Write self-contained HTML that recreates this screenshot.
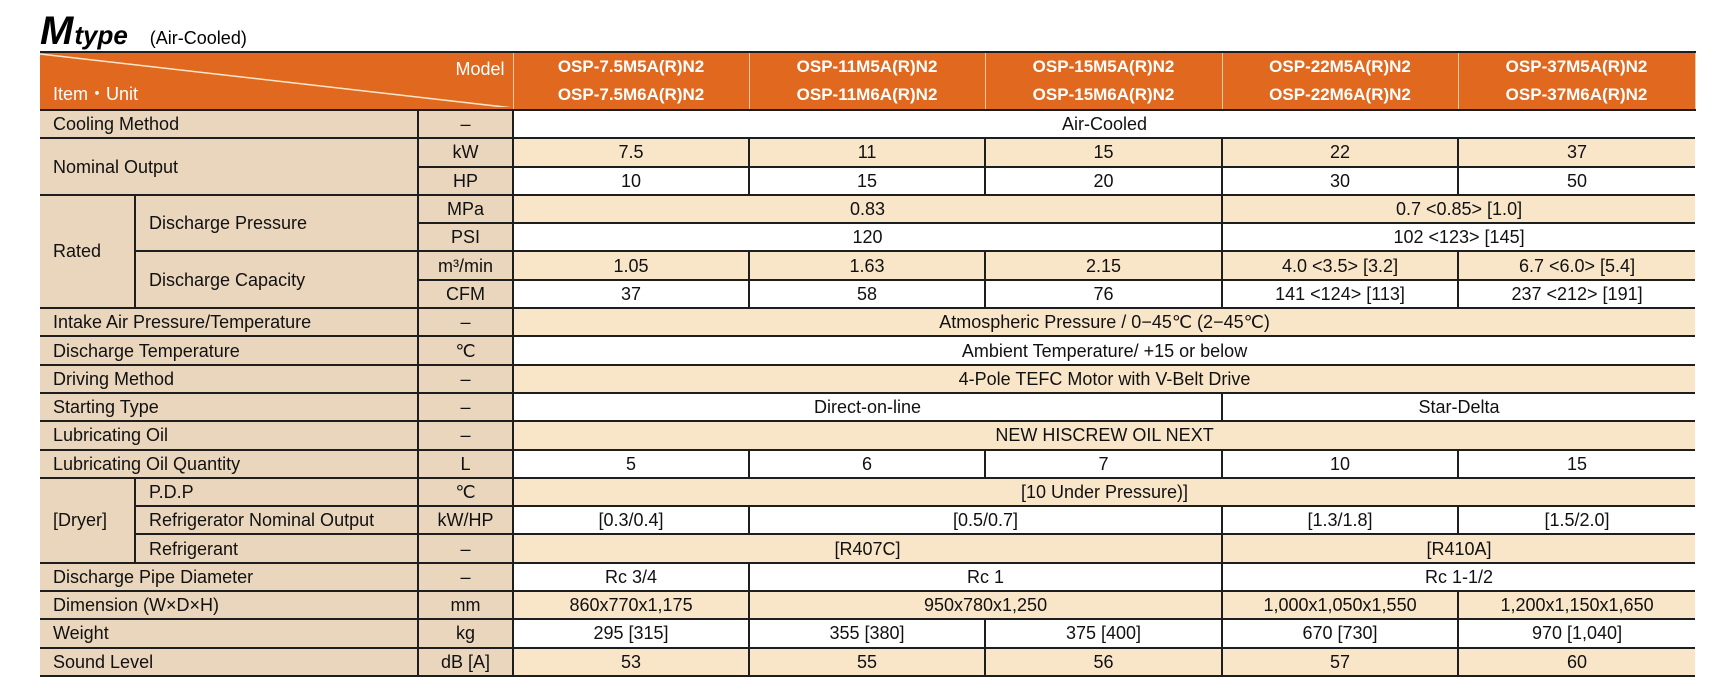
<!DOCTYPE html>
<html><head><meta charset="utf-8"><style>
body{margin:0;width:1717px;height:689px;background:#fff;font-family:"Liberation Sans",Arial,sans-serif;position:relative;overflow:hidden;}
.title{position:absolute;left:40px;top:9px;white-space:nowrap;}
.title .m{font-size:40px;font-weight:bold;font-style:italic;letter-spacing:-1px;}
.title .t{font-size:26px;font-weight:bold;font-style:italic;margin-left:2px;}
.title .a{font-size:18px;margin-left:22px;}
table{position:absolute;left:40px;top:51px;border-collapse:collapse;table-layout:fixed;width:1655px;}
td{border:2px solid #1e1e1e;padding:0;font-size:18px;color:#111;text-align:center;height:26.3px;line-height:18px;white-space:nowrap;overflow:hidden;}
td.l{background:#ead6bd;text-align:left;padding-left:13px;}
td.u{background:#ead6bd;}
tr.b td.d{background:#f9e6c9;}
tr.w td.d{background:#fff;}
tr td:first-child{border-left:none;}
tr td:last-child{border-right:none;}
tr.h td{background:#e0691f;color:#fff;height:54px;border-top:2px solid #1e1e1e;border-bottom:2px solid #1e1e1e;border-left:1.5px solid #f2c9a2;border-right:1.5px solid #f2c9a2;font-weight:bold;font-size:17px;line-height:28px;}
tr.h td.corner{position:relative;font-weight:normal;border-left:none;}
</style></head><body>
<div class="title"><span class="m">M</span><span class="t">type</span><span class="a">(Air-Cooled)</span></div>
<table>
<colgroup><col style="width:95px"><col style="width:283px"><col style="width:95px"><col style="width:236px"><col style="width:236px"><col style="width:237px"><col style="width:236px"><col style="width:237px"></colgroup>
<tr class="h"><td class="corner" colspan="3">
<svg width="473" height="54" style="position:absolute;left:0;top:0"><line x1="0" y1="1" x2="473" y2="55" stroke="#fbe6cc" stroke-width="1.5"/></svg>
<span style="position:absolute;right:8px;top:2px;font-size:18px;">Model</span>
<span style="position:absolute;left:13px;top:27px;font-size:18px;">Item・Unit</span></td>
<td>OSP-7.5M5A(R)N2<br>OSP-7.5M6A(R)N2</td><td>OSP-11M5A(R)N2<br>OSP-11M6A(R)N2</td><td>OSP-15M5A(R)N2<br>OSP-15M6A(R)N2</td><td>OSP-22M5A(R)N2<br>OSP-22M6A(R)N2</td><td>OSP-37M5A(R)N2<br>OSP-37M6A(R)N2</td></tr>
<tr class="w"><td class="l" colspan="2">Cooling Method</td><td class="u">–</td><td class="d" colspan="5">Air-Cooled</td></tr>
<tr class="b"><td class="l" colspan="2" rowspan="2" style="background:#ead6bd">Nominal Output</td><td class="u">kW</td><td class="d">7.5</td><td class="d">11</td><td class="d">15</td><td class="d">22</td><td class="d">37</td></tr>
<tr class="w"><td class="u">HP</td><td class="d">10</td><td class="d">15</td><td class="d">20</td><td class="d">30</td><td class="d">50</td></tr>
<tr class="b"><td class="l" rowspan="4">Rated</td><td class="l" rowspan="2">Discharge Pressure</td><td class="u">MPa</td><td class="d" colspan="3">0.83</td><td class="d" colspan="2">0.7 &lt;0.85&gt; [1.0]</td></tr>
<tr class="w"><td class="u">PSI</td><td class="d" colspan="3">120</td><td class="d" colspan="2">102 &lt;123&gt; [145]</td></tr>
<tr class="b"><td class="l" rowspan="2">Discharge Capacity</td><td class="u">m³/min</td><td class="d">1.05</td><td class="d">1.63</td><td class="d">2.15</td><td class="d">4.0 &lt;3.5&gt; [3.2]</td><td class="d">6.7 &lt;6.0&gt; [5.4]</td></tr>
<tr class="w"><td class="u">CFM</td><td class="d">37</td><td class="d">58</td><td class="d">76</td><td class="d">141 &lt;124&gt; [113]</td><td class="d">237 &lt;212&gt; [191]</td></tr>
<tr class="b"><td class="l" colspan="2">Intake Air Pressure/Temperature</td><td class="u">–</td><td class="d" colspan="5">Atmospheric Pressure / 0−45℃ (2−45℃)</td></tr>
<tr class="w"><td class="l" colspan="2">Discharge Temperature</td><td class="u">℃</td><td class="d" colspan="5">Ambient Temperature/ +15 or below</td></tr>
<tr class="b"><td class="l" colspan="2">Driving Method</td><td class="u">–</td><td class="d" colspan="5">4-Pole TEFC Motor with V-Belt Drive</td></tr>
<tr class="w"><td class="l" colspan="2">Starting Type</td><td class="u">–</td><td class="d" colspan="3">Direct-on-line</td><td class="d" colspan="2">Star-Delta</td></tr>
<tr class="b"><td class="l" colspan="2">Lubricating Oil</td><td class="u">–</td><td class="d" colspan="5">NEW HISCREW OIL NEXT</td></tr>
<tr class="w"><td class="l" colspan="2">Lubricating Oil Quantity</td><td class="u">L</td><td class="d">5</td><td class="d">6</td><td class="d">7</td><td class="d">10</td><td class="d">15</td></tr>
<tr class="b"><td class="l" rowspan="3">[Dryer]</td><td class="l">P.D.P</td><td class="u">℃</td><td class="d" colspan="5">[10 Under Pressure)]</td></tr>
<tr class="w"><td class="l">Refrigerator Nominal Output</td><td class="u">kW/HP</td><td class="d">[0.3/0.4]</td><td class="d" colspan="2">[0.5/0.7]</td><td class="d">[1.3/1.8]</td><td class="d">[1.5/2.0]</td></tr>
<tr class="b"><td class="l">Refrigerant</td><td class="u">–</td><td class="d" colspan="3">[R407C]</td><td class="d" colspan="2">[R410A]</td></tr>
<tr class="w"><td class="l" colspan="2">Discharge Pipe Diameter</td><td class="u">–</td><td class="d">Rc 3/4</td><td class="d" colspan="2">Rc 1</td><td class="d" colspan="2">Rc 1-1/2</td></tr>
<tr class="b"><td class="l" colspan="2">Dimension (W×D×H)</td><td class="u">mm</td><td class="d">860x770x1,175</td><td class="d" colspan="2">950x780x1,250</td><td class="d">1,000x1,050x1,550</td><td class="d">1,200x1,150x1,650</td></tr>
<tr class="w"><td class="l" colspan="2">Weight</td><td class="u">kg</td><td class="d">295 [315]</td><td class="d">355 [380]</td><td class="d">375 [400]</td><td class="d">670 [730]</td><td class="d">970 [1,040]</td></tr>
<tr class="b"><td class="l" colspan="2">Sound Level</td><td class="u">dB [A]</td><td class="d">53</td><td class="d">55</td><td class="d">56</td><td class="d">57</td><td class="d">60</td></tr>
</table>
</body></html>
